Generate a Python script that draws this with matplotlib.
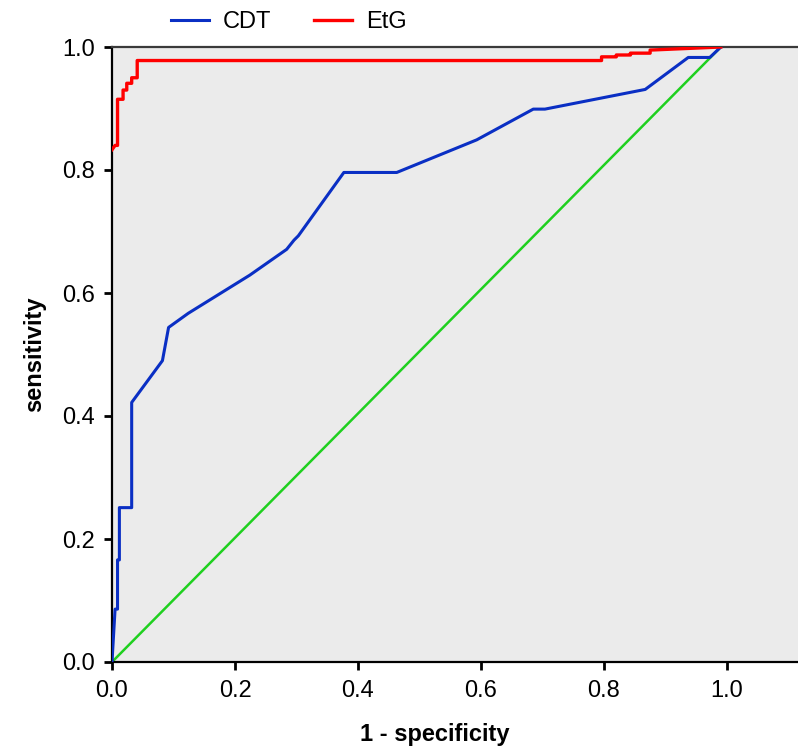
import matplotlib
matplotlib.use("Agg")
import matplotlib.pyplot as plt

# ROC curve points
cdt_fpr = [0.0, 0.005, 0.009, 0.009, 0.012, 0.012, 0.032, 0.032, 0.082, 0.092,
           0.124, 0.224, 0.284, 0.296, 0.303, 0.377, 0.463, 0.593, 0.685, 0.704,
           0.867, 0.937, 0.972, 0.99]
cdt_tpr = [0.0, 0.086, 0.086, 0.166, 0.166, 0.251, 0.251, 0.422, 0.490, 0.544,
           0.567, 0.629, 0.671, 0.686, 0.693, 0.796, 0.796, 0.849, 0.899, 0.899,
           0.931, 0.983, 0.983, 1.0]

etg_fpr = [0.0, 0.005, 0.009, 0.009, 0.018, 0.018, 0.024, 0.024, 0.032, 0.032,
           0.041, 0.041, 0.796, 0.796, 0.82, 0.82, 0.843, 0.843, 0.875, 0.875,
           0.99]
etg_tpr = [0.833, 0.840, 0.840, 0.915, 0.915, 0.930, 0.930, 0.941, 0.941, 0.950,
           0.950, 0.978, 0.978, 0.984, 0.984, 0.987, 0.987, 0.990, 0.990, 0.995,
           1.0]

ref_x = [0.0, 0.99]
ref_y = [0.0, 1.0]

x_ticks = [0.0, 0.2, 0.4, 0.6, 0.8, 1.0]
y_ticks = [0.0, 0.2, 0.4, 0.6, 0.8, 1.0]

plt.rcParams["font.family"] = ["Liberation Sans", "DejaVu Sans"]

fig = plt.figure(figsize=(7.98, 7.53), dpi=100)
ax = fig.add_axes([112 / 798, 91 / 753, 686 / 798, 615 / 753])
ax.set_facecolor("#ebebeb")

ax.plot(ref_x, ref_y, color="#1fd01f", lw=1.8, zorder=2)
ax.plot(cdt_fpr, cdt_tpr, color="#0a2fc4", lw=2.2, label="CDT", zorder=3)
ax.plot(etg_fpr, etg_tpr, color="#ff0000", lw=2.4, label="EtG", zorder=4)

ax.set_xlim(0, 686 / 615)
ax.set_ylim(0, 1)
ax.set_xticks(x_ticks)
ax.set_yticks(y_ticks)
ax.set_xticklabels([f"{t:.1f}" for t in x_ticks])
ax.set_yticklabels([f"{t:.1f}" for t in y_ticks])
ax.tick_params(direction="out", length=6, width=2, labelsize=17, color="black")
ax.tick_params(axis="x", pad=7)
ax.tick_params(axis="y", pad=6)

for side in ["left", "bottom"]:
    ax.spines[side].set_linewidth(1.6)
    ax.spines[side].set_color("black")
ax.spines["top"].set_linewidth(1.6)
ax.spines["top"].set_color("#3a3a3a")
ax.spines["right"].set_visible(False)

ax.set_xlabel("1 - specificity", fontsize=17, fontweight="bold")
ax.xaxis.set_label_coords((435 - 112) / 686, -0.1)
ax.set_ylabel("sensitivity", fontsize=17, fontweight="bold", labelpad=12)

fig.legend(loc="center", bbox_to_anchor=(289 / 798, 1 - 22 / 753), ncol=2,
           frameon=False, fontsize=17, handlelength=1.6, handletextpad=0.6,
           columnspacing=1.8)

fig.savefig("out.png", dpi=100)
